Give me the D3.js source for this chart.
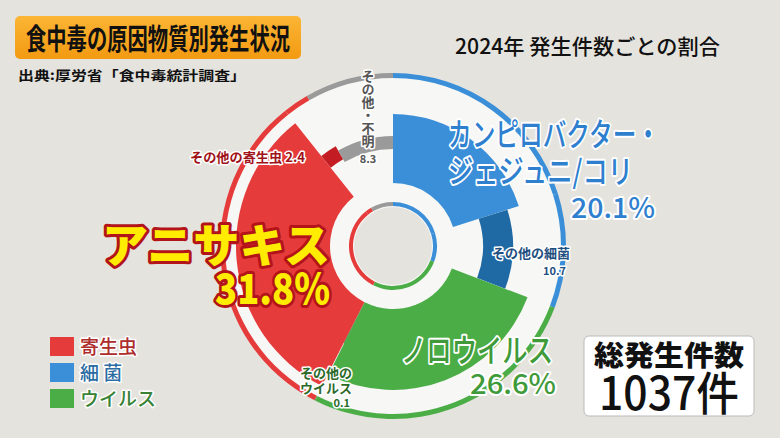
<!DOCTYPE html>
<html><head><meta charset="utf-8">
<script src="https://cdn.jsdelivr.net/npm/d3@7"></script>
<style>body{margin:0;background:#e5e3dd;font-family:"Noto Sans CJK JP",sans-serif}</style>
</head><body><svg id="c" width="780" height="438"></svg>
<script>
const categories=["カンピロバクター・ジェジュニ/コリ","その他の細菌","ノロウイルス","その他のウイルス","アニサキス","その他の寄生虫","その他・不明"];
const values=[20.1,10.7,26.6,0.1,31.8,2.4,8.3];
const groups=["細菌","細菌","ウイルス","ウイルス","寄生虫","寄生虫","その他"];
const groupNames=["寄生虫","細菌","ウイルス"];
const total=1037;
const mainColors=["#3a8fd8","#1f6aa5","#4aad46","#2e8a32","#e63b3b","#c31c22","#9a9a9a"];
const gcol={"細菌":"#3a8fd8","ウイルス":"#4aad46","寄生虫":"#e63b3b","その他":"#9a9a9a"};
const radii=[[63,132],[90,120],[63,144],[63,109],[63,157],[100,115],[97,110]];
const svg=d3.select("#c"),cx=393,cy=246;
const pie=d3.pie().sort(null).value(d=>d)(values);
const g=svg.append("g").attr("transform",`translate(${cx},${cy})`);
g.append("circle").attr("r",170).attr("fill","#f7f7f5");
const arcO=d3.arc().innerRadius(168).outerRadius(173);
const arcI=d3.arc().innerRadius(40).outerRadius(44);
pie.forEach((p,i)=>{
 g.append("path").attr("d",arcO(p)).attr("fill",gcol[groups[i]]);
 g.append("path").attr("d",arcI(p)).attr("fill",gcol[groups[i]]);
});
g.append("circle").attr("r",39).attr("fill","#e5e3dd");
pie.forEach((p,i)=>{
 g.append("path").attr("d",d3.arc().innerRadius(radii[i][0]).outerRadius(radii[i][1])(p)).attr("fill",mainColors[i]);
});
const defs=svg.append("defs");
const lg=defs.append("linearGradient").attr("id","og").attr("x1",0).attr("y1",0).attr("x2",0).attr("y2",1);
lg.append("stop").attr("offset",0).attr("stop-color","#fbb535");
lg.append("stop").attr("offset",1).attr("stop-color","#f39a12");
svg.append("rect").attr("x",15).attr("y",16).attr("width",286).attr("height",43).attr("rx",5).attr("fill","url(#og)");
function t(x,y,s,txt,o={}){
 const e=svg.append("text").attr("x",x).attr("y",y).attr("font-size",s).attr("font-weight",o.w||"bold")
  .attr("fill",o.fill||"#111").attr("text-anchor",o.a||"start").text(txt);
 if(o.stroke)e.attr("stroke",o.stroke).attr("stroke-width",o.sw||3).attr("paint-order","stroke").attr("stroke-linejoin","round");
 if(o.len)e.attr("textLength",o.len).attr("lengthAdjust","spacingAndGlyphs");
 return e;}
t(26,50,29,"食中毒の原因物質別発生状況",{len:264});
t(455,54,21,"2024年 発生件数ごとの割合",{w:"500",len:265});
t(18,80,13,"出典:厚労省「食中毒統計調査」",{len:228});
const blue="#2f7fcf",green="#3f9a3a";
t(448,146,32,"カンピロバクター・",{fill:blue,stroke:"#fff",sw:4,w:"500",len:212});
t(448,183,32,"ジェジュニ/コリ",{fill:blue,stroke:"#fff",sw:4,w:"500",len:185});
t(655,218,28,"20.1%",{fill:blue,stroke:"#fff",sw:4,a:"end",w:"500",len:84});
t(570,258,13,"その他の細菌",{fill:"#1f4f80",stroke:"#fff",sw:3,a:"end"});
t(566,275,11,"10.7",{fill:"#1f4f80",stroke:"#fff",sw:3,a:"end"});
t(553,362,32,"ノロウイルス",{fill:green,stroke:"#fff",sw:4,a:"end",w:"500",len:152});
t(556,394,28,"26.6%",{fill:green,stroke:"#fff",sw:4,a:"end",w:"500",len:86});
t(352,378,13,"その他の",{fill:"#2c6a2a",stroke:"#fff",sw:3,a:"end"});
t(352,393,13,"ウイルス",{fill:"#2c6a2a",stroke:"#fff",sw:3,a:"end"});
t(350,407,11,"0.1",{fill:"#2c6a2a",stroke:"#fff",sw:3,a:"end"});
t(330,262,46,"アニサキス",{fill:"#ffec00",stroke:"#b3141a",sw:6,a:"end",w:"900",len:228});
t(330,304,42,"31.8%",{fill:"#ffec00",stroke:"#b3141a",sw:6,a:"end",w:"900",len:115});
t(190,162,13,"その他の寄生虫 2.4",{fill:"#a01219",stroke:"#fff",sw:3,len:115});
t(368,70,13,"その他・不明",{fill:"#555",stroke:"#fff",sw:3}).attr("writing-mode","vertical-rl");
t(368,163,11,"8.3",{fill:"#555",stroke:"#fff",sw:3,a:"middle"});
groupNames.forEach((n,i)=>{
 svg.append("rect").attr("x",50).attr("y",337+i*26).attr("width",24).attr("height",19).attr("fill",gcol[n]);
 t(80,354+i*26,19,n==="細菌"?"細 菌":n,{fill:d3.color(gcol[n]).darker(0.8),stroke:"#fff",sw:3,w:"500"});
});
svg.append("rect").attr("x",584).attr("y",336).attr("width",170).attr("height",80).attr("rx",5).attr("fill","#fff").attr("stroke","#bbb");
t(669,366,28,"総発生件数",{a:"middle",w:"900",len:150});
t(669,410,46,total+"件",{a:"middle",w:"500",len:140});
</script></body></html>
